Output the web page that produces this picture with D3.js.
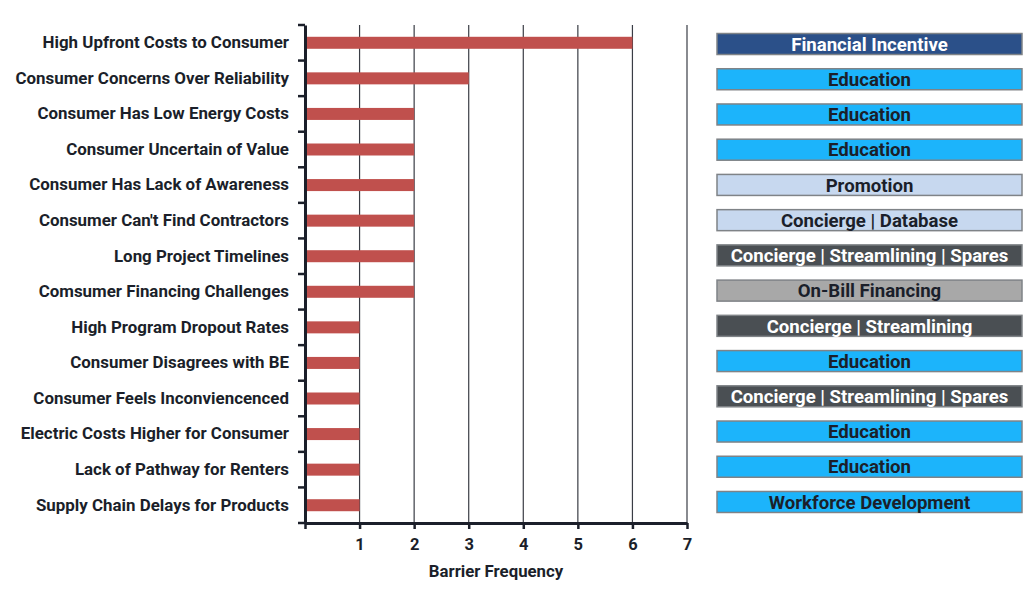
<!DOCTYPE html>
<html>
<head>
<meta charset="utf-8">
<script src="https://cdn.jsdelivr.net/npm/d3@7"></script>
<style>
  body { margin: 0; background: #fff; }
  svg text { font-family: Roboto, "Noto Sans", sans-serif; font-weight: 700; }
</style>
</head>
<body>
<div id="chart"></div>
<script>
// barriers, top to bottom
const barriers = [
  "High Upfront Costs to Consumer",
  "Consumer Concerns Over Reliability",
  "Consumer Has Low Energy Costs",
  "Consumer Uncertain of Value",
  "Consumer Has Lack of Awareness",
  "Consumer Can't Find Contractors",
  "Long Project Timelines",
  "Comsumer Financing Challenges",
  "High Program Dropout Rates",
  "Consumer Disagrees with BE",
  "Consumer Feels Inconviencenced",
  "Electric Costs Higher for Consumer",
  "Lack of Pathway for Renters",
  "Supply Chain Delays for Products"
]
const frequency = [6, 3, 2, 2, 2, 2, 2, 2, 1, 1, 1, 1, 1, 1]
const solutions = [
  "Financial Incentive",
  "Education",
  "Education",
  "Education",
  "Promotion",
  "Concierge | Database",
  "Concierge | Streamlining | Spares",
  "On-Bill Financing",
  "Concierge | Streamlining",
  "Education",
  "Concierge | Streamlining | Spares",
  "Education",
  "Education",
  "Workforce Development"
]
const xTicks = [1, 2, 3, 4, 5, 6, 7]

const width = 1024, height = 590
const margin = { top: 25, left: 305, bottom: 523, right: 687 }

// fill / text colour per solution type
const solutionColour = d3.scaleOrdinal()
  .domain(["Financial Incentive", "Education", "Promotion", "Concierge | Database",
    "Concierge | Streamlining | Spares", "On-Bill Financing", "Concierge | Streamlining",
    "Workforce Development"])
  .range(["#2b5089", "#1cb4fb", "#c7d8ef", "#c7d8ef", "#4a4f53", "#a8a8a8", "#4a4f53", "#1cb4fb"])
const solutionText = d3.scaleOrdinal()
  .domain(["Financial Incentive", "Concierge | Streamlining | Spares", "Concierge | Streamlining"])
  .range(["#ffffff", "#ffffff", "#ffffff"])
  .unknown("#1b1f2a")

const svg = d3.select("#chart").append("svg")
  .attr("width", width)
  .attr("height", height)

const x = d3.scaleLinear()
  .domain([0, 7])
  .range([margin.left, margin.right])

const y = d3.scaleBand()
  .domain(barriers)
  .range([margin.top, margin.bottom])

// the boxes on the right are spaced a little tighter than the bars
const yBox = d3.scaleBand()
  .domain(barriers)
  .range([26.4, 519.6])

// grid lines
svg.append("g")
  .selectAll("line")
  .data(xTicks)
  .join("line")
  .attr("x1", d => x(d))
  .attr("x2", d => x(d))
  .attr("y1", margin.top)
  .attr("y2", margin.bottom)
  .attr("stroke", "#3a3d45")
  .attr("stroke-width", 1.2)

// bars
const barH = 12
svg.append("g")
  .selectAll("rect")
  .data(barriers)
  .join("rect")
  .attr("x", x(0))
  .attr("y", d => y(d) + y.bandwidth() / 2 - barH / 2)
  .attr("width", (d, i) => x(frequency[i]) - x(0))
  .attr("height", barH)
  .attr("fill", "#c0504d")

// x axis
const xAxis = svg.append("g")
  .attr("transform", `translate(0,${margin.bottom})`)
  .call(d3.axisBottom(x).tickValues([0].concat(xTicks)).tickSize(6).tickSizeOuter(0)
    .tickFormat(d => d === 0 ? "" : d))
xAxis.select(".domain").attr("stroke", "#1b1f2a").attr("stroke-width", 3)
xAxis.selectAll(".tick line").attr("stroke", "#1b1f2a").attr("stroke-width", 2.5)
xAxis.selectAll(".tick text")
  .attr("font-size", 16.5)
  .attr("fill", "#1b1f2a")
  .attr("dy", "1.1em")

svg.append("text")
  .attr("x", x(3.5))
  .attr("y", 577)
  .attr("text-anchor", "middle")
  .attr("font-size", 16.8)
  .attr("fill", "#1b1f2a")
  .text("Barrier Frequency")

// y axis: ticks sit on the band boundaries
const yAxis = svg.append("g")
  .attr("transform", `translate(${margin.left},0)`)
  .call(d3.axisLeft(y).tickSize(0).tickPadding(16))
yAxis.select(".domain").attr("stroke", "#1b1f2a").attr("stroke-width", 3)
yAxis.selectAll(".tick text")
  .attr("font-size", 16.9)
  .attr("fill", "#1b1f2a")

svg.append("g")
  .selectAll("line")
  .data(barriers.concat([null]))
  .join("line")
  .attr("x1", margin.left - 7)
  .attr("x2", margin.left)
  .attr("y1", (d, i) => d ? y(d) : margin.bottom)
  .attr("y2", (d, i) => d ? y(d) : margin.bottom)
  .attr("stroke", "#1b1f2a")
  .attr("stroke-width", 2.5)

// solution boxes on the right
const boxX = 717, boxW = 305, boxH = 21
const boxes = svg.append("g")
  .selectAll("g")
  .data(barriers)
  .join("g")
  .attr("transform", d => `translate(${boxX},${yBox(d) + yBox.bandwidth() / 2 - boxH / 2})`)

boxes.append("rect")
  .attr("width", boxW)
  .attr("height", boxH)
  .attr("fill", (d, i) => solutionColour(solutions[i]))
  .attr("stroke", "#7f8387")
  .attr("stroke-width", 1.5)

boxes.append("text")
  .attr("x", boxW / 2)
  .attr("y", boxH / 2)
  .attr("dy", "0.36em")
  .attr("text-anchor", "middle")
  .attr("font-size", 18.6)
  .attr("fill", (d, i) => solutionText(solutions[i]))
  .text((d, i) => solutions[i])
</script>
</body>
</html>
